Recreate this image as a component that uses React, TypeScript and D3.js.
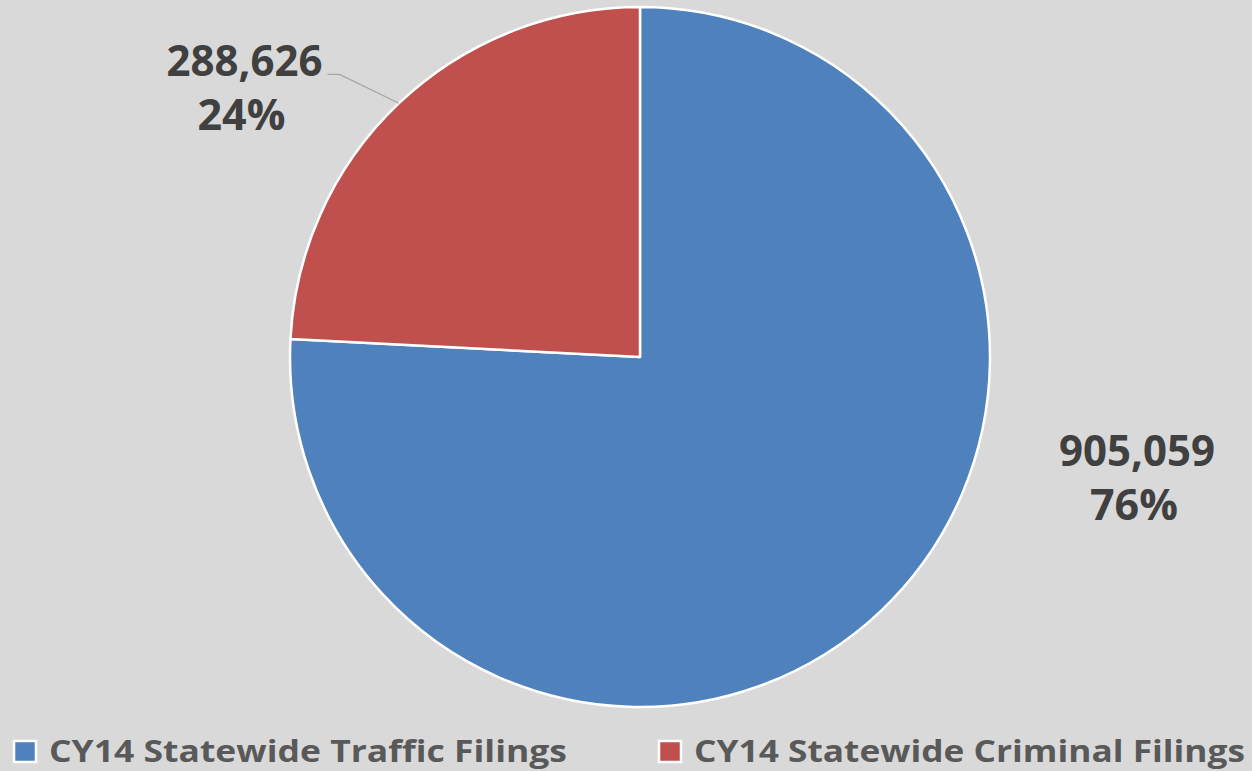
import React from "react";
import * as d3 from "d3";

const categories = ["CY14 Statewide Traffic Filings", "CY14 Statewide Criminal Filings"];
const values = [905059, 288626];
const colors = ["#4F81BD", "#C0504D"];

const width = 1252;
const height = 771;
const cx = 640;
const cy = 357;
const radius = 350;
const font = "'Open Sans', 'DejaVu Sans', sans-serif";

const App = () => {
  const total = d3.sum(values);
  const pie = d3.pie<number>().sort(null).value((d) => d);
  const arcs = pie(values);
  const arc = d3.arc<d3.PieArcDatum<number>>().innerRadius(0).outerRadius(radius);
  const edge = d3.arc<d3.PieArcDatum<number>>().innerRadius(radius).outerRadius(radius);
  const fmt = d3.format(",");
  const pct = (v: number) => Math.round((v / total) * 100) + "%";

  // red slice leader line goes to the middle of its outer edge
  const [ex, ey] = edge.centroid(arcs[1]);

  // label anchors, relative to pie centre
  const labelPos = [
    { x: cx + radius * 1.42, y: cy + radius * 0.31, w: 156 },
    { x: cx - radius * 1.13, y: cy - radius * 0.802, w: 156 },
  ];

  const legendX = [12, 657];
  const legendTextW = [518, 551];

  return (
    <svg
      width={width}
      height={height}
      style={{ position: "absolute", left: 0, top: 0, background: "#D9D9D9" }}
    >
      <rect width={width} height={height} fill="#D9D9D9" />
      <g transform={`translate(${cx},${cy})`}>
        {arcs.map((a, i) => (
          <path key={i} d={arc(a) || ""} fill={colors[i]} stroke="#fff" strokeWidth={2.5} strokeLinejoin="round" />
        ))}
      </g>

      <polyline
        points={`${labelPos[1].x + 83},${labelPos[1].y - 2} ${labelPos[1].x + 95},${labelPos[1].y - 2} ${cx + ex},${cy + ey}`}
        fill="none"
        stroke="#A6A6A6"
        strokeWidth={1.3}
      />

      {values.map((v, i) => (
        <g key={i} fontFamily={font} fontWeight={700} fill="#404040" fontSize={43} textAnchor="middle">
          <text x={labelPos[i].x} y={labelPos[i].y} textLength={labelPos[i].w} lengthAdjust="spacingAndGlyphs">
            {fmt(v)}
          </text>
          <text x={labelPos[i].x - 3} y={labelPos[i].y + 54}>
            {pct(v)}
          </text>
        </g>
      ))}

      {categories.map((c, i) => (
        <g key={c}>
          <rect x={legendX[i] + 2} y={741} width={22} height={21} fill={colors[i]} stroke="#fff" strokeWidth={2.5} />
          <text
            x={legendX[i] + 37}
            y={762}
            fontFamily={font}
            fontWeight={700}
            fontSize={30}
            fill="#595959"
            textLength={legendTextW[i]}
            lengthAdjust="spacingAndGlyphs"
          >
            {c}
          </text>
        </g>
      ))}
    </svg>
  );
};

export default App;
